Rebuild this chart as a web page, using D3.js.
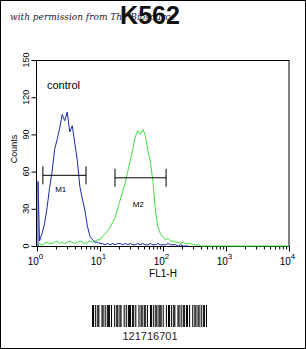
<!DOCTYPE html>
<html>
<head>
<meta charset="utf-8">
<script src="https://cdn.jsdelivr.net/npm/d3@7"></script>
<style>
  html, body { margin: 0; padding: 0; background: #fff; }
  svg { display: block; font-family: Arial, "Liberation Sans", sans-serif; }
</style>
</head>
<body>
<script>
// histogram bins: log10 channel step
const binStep = 0.04;

const blueCounts = [52, 4, 10, 18, 31, 47, 60, 78, 86, 95, 106, 101, 108, 92, 97, 83, 69, 48, 38, 29,
  16, 8, 5, 3, 3, 2, 2, 1, 2, 1, 2, 1, 2, 2, 1, 2, 1, 2, 1, 1,
  2, 1, 2, 1, 1, 2, 1, 1, 2, 1, 1, 1, 2, 1, 1, 1, 0, 1, 0, 0, 0];

const greenCounts = [0, 2, 1, 2, 3, 2, 2, 3, 4, 2, 3, 2, 3, 4, 3, 2, 3, 4, 3, 2,
  3, 4, 3, 4, 5, 5, 8, 10, 12, 15, 19, 23, 30, 37, 44, 51, 60, 69, 78, 88,
  93, 90, 94, 89, 77, 68, 52, 28, 15, 10, 7, 5, 6, 4, 4, 3, 3, 2, 3, 2,
  2, 2, 1, 1, 1, 0];

const yTicks = [0, 30, 60, 90, 120, 150];
const xDecades = [1, 10, 100, 1000, 10000];
const markers = [
  {name: "M1", from: 1.24, to: 6.0, y: 57},
  {name: "M2", from: 17.3, to: 112, y: 55}
];
const barcodeModules = "1101011001101011101001011011001010111011010010110110100110101101110100101101011001101011011010010110110101101";

const width = 306, height = 349;
const margin = {top: 60, right: 17, bottom: 103, left: 37};

const svg = d3.select("body").append("svg")
    .attr("width", width)
    .attr("height", height);

svg.append("rect")
    .attr("x", 0.5).attr("y", 0.5)
    .attr("width", width - 1).attr("height", height - 1)
    .attr("fill", "#fff").attr("stroke", "#000");

const xScale = d3.scaleLog().domain([1, 10000]).range([margin.left, width - margin.right]);
const yScale = d3.scaleLinear().domain([0, 150]).range([height - margin.bottom, margin.top]);

// watermark + title (they overlap in the original too)
svg.append("text")
    .attr("x", 10).attr("y", 20)
    .style("font-family", "'DejaVu Serif', serif")
    .style("font-style", "italic")
    .style("font-size", "9px")
    .attr("fill", "#23233a")
    .text("with permission from The Biosource");

svg.append("text")
    .attr("x", 150).attr("y", 24)
    .attr("text-anchor", "middle")
    .style("font-size", "25px")
    .style("font-weight", "bold")
    .attr("fill", "#111")
    .text("K562");

// frame
svg.append("rect")
    .attr("x", xScale(1) - 0.5).attr("y", yScale(150) + 0.5)
    .attr("width", xScale(10000) - xScale(1) + 0.5)
    .attr("height", yScale(0) - yScale(150))
    .attr("fill", "none").attr("stroke", "#000");

// y axis
const yAxis = d3.axisLeft(yScale).tickValues(yTicks).tickSize(5).tickSizeOuter(0);
const gy = svg.append("g")
    .attr("transform", `translate(${xScale(1) - 0.5},0)`)
    .call(yAxis);
gy.select(".domain").remove();
gy.selectAll("text")
    .attr("x", 0).attr("dy", 0)
    .attr("transform", d => `translate(-8,${yScale(d)}) rotate(-90)`)
    .attr("y", 0)
    .attr("text-anchor", "middle")
    .style("font-size", "9px")
    .attr("fill", "#000");
gy.selectAll(".tick").attr("transform", null);
gy.selectAll(".tick line").attr("y1", d => yScale(d) + 0.5).attr("y2", d => yScale(d) + 0.5);

svg.append("text")
    .attr("transform", `translate(17,${(yScale(0) + yScale(150)) / 2 - 4}) rotate(-90)`)
    .attr("text-anchor", "middle")
    .style("font-size", "9px")
    .text("Counts");

// x axis: minor + major ticks
const minorVals = [];
xDecades.slice(0, -1).forEach(d => { for (let k = 2; k < 10; k++) minorVals.push(d * k); });

svg.append("g")
    .attr("transform", `translate(0,${yScale(0) + 0.5})`)
    .call(d3.axisBottom(xScale).tickValues(minorVals).tickSize(3).tickFormat(""))
    .call(g => g.select(".domain").remove());

const gx = svg.append("g")
    .attr("transform", `translate(0,${yScale(0) + 0.5})`)
    .call(d3.axisBottom(xScale).tickValues(xDecades).tickSize(5).tickFormat(""));
gx.select(".domain").remove();

gx.selectAll(".tick").append("text")
    .attr("y", 18).attr("x", -2)
    .attr("text-anchor", "middle")
    .attr("fill", "#000")
    .style("font-size", "10px")
    .text("10")
    .append("tspan")
    .attr("dy", -6).attr("dx", 0)
    .style("font-size", "8px")
    .text((d, i) => i);

svg.append("text")
    .attr("x", (xScale(10) + xScale(1000)) / 2)
    .attr("y", 277)
    .attr("text-anchor", "middle")
    .style("font-size", "10px")
    .text("FL1-H");

// histograms
const line = d3.line()
    .x((d, i) => xScale(Math.pow(10, i * binStep)) + (i === 0 ? 1 : 0))
    .y(d => yScale(d));

svg.append("path")
    .datum(greenCounts)
    .attr("d", line)
    .attr("fill", "none").attr("stroke", "#3de03d").attr("stroke-width", 1);

svg.append("path")
    .attr("d", `M${xScale(Math.pow(10, (greenCounts.length - 1) * binStep))},${yScale(0)}H${xScale(10000)}`)
    .attr("fill", "none").attr("stroke", "#3de03d").attr("stroke-width", 1.2);

svg.append("path")
    .datum(blueCounts)
    .attr("d", d => `M${xScale(1) + 1},${yScale(0)}` + line(d).replace(/^M/, "L"))
    .attr("fill", "none").attr("stroke", "#1a2aa8").attr("stroke-width", 1);

svg.append("text")
    .attr("x", 47).attr("y", 89)
    .style("font-size", "11px")
    .text("control");

// markers
const mg = svg.selectAll(".marker").data(markers).enter().append("g");
mg.append("line")
    .attr("x1", d => xScale(d.from)).attr("x2", d => xScale(d.to))
    .attr("y1", d => yScale(d.y)).attr("y2", d => yScale(d.y))
    .attr("stroke", "#000");
mg.append("line")
    .attr("x1", d => xScale(d.from)).attr("x2", d => xScale(d.from))
    .attr("y1", d => yScale(d.y) - 9).attr("y2", d => yScale(d.y) + 9)
    .attr("stroke", "#000");
mg.append("line")
    .attr("x1", d => xScale(d.to)).attr("x2", d => xScale(d.to))
    .attr("y1", d => yScale(d.y) - 9).attr("y2", d => yScale(d.y) + 9)
    .attr("stroke", "#000");
mg.append("text")
    .attr("x", d => Math.sqrt(xScale(d.from) * xScale(d.to)))
    .attr("y", (d, i) => yScale(d.y) + (i === 0 ? 17 : 29))
    .attr("text-anchor", "middle")
    .style("font-size", "8px")
    .text(d => d.name);

// barcode
const bx = d3.scaleLinear().domain([0, barcodeModules.length]).range([92, 207]);
svg.append("g").selectAll("rect")
    .data(barcodeModules.split("").map((c, i) => ({c, i})).filter(d => d.c === "1"))
    .enter().append("rect")
    .attr("x", d => bx(d.i)).attr("y", 305)
    .attr("width", bx(1) - bx(0)).attr("height", 22)
    .attr("fill", "#000");

svg.append("text")
    .attr("x", 150).attr("y", 340)
    .attr("text-anchor", "middle")
    .style("font-size", "11px")
    .attr("fill", "#222")
    .text("121716701");
</script>
</body>
</html>
